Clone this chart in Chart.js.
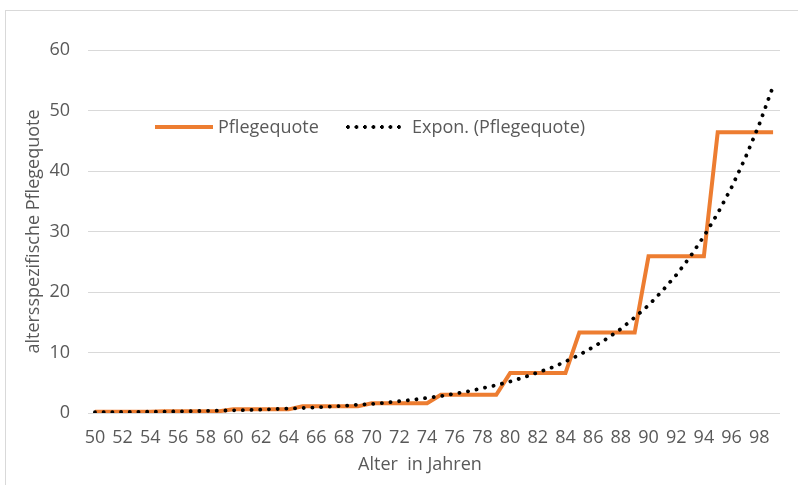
<!DOCTYPE html>
<html><head><meta charset="utf-8">
<script src="https://cdn.jsdelivr.net/npm/chart.js@4.4.1/dist/chart.umd.min.js"></script>
<style>
html,body{margin:0;padding:0;background:#fff;}
#wrap{position:relative;width:798px;height:485px;overflow:hidden;background:#fff}
#frame{position:absolute;left:5px;top:10px;width:820px;height:500px;border:1px solid #d9d9d9;box-sizing:border-box}
canvas{position:absolute;left:0;top:0}
.lt{position:absolute;font-family:'Open Sans',sans-serif;font-size:18px;color:#595959;line-height:20px;white-space:nowrap}
.ls{position:absolute}
</style></head>
<body><div id="wrap"><div id="frame"></div><canvas id="c" width="798" height="485"></canvas>
<div class="ls" style="left:155px;top:125px;width:58px;height:4px;background:#ED7D31"></div>
<div class="lt" style="left:218px;top:116px">Pflegequote</div>
<div class="ls" style="left:346px;top:125px;width:57px;height:4px;background:radial-gradient(circle at 2px 2px,#000 1.7px,transparent 2.1px);background-size:8.5px 4px;background-repeat:repeat-x"></div>
<div class="lt" style="left:412px;top:116px">Expon. (Pflegequote)</div>
</div>
<script>
const ages = ["50","51","52","53","54","55","56","57","58","59","60","61","62","63","64","65","66","67","68","69","70","71","72","73","74","75","76","77","78","79","80","81","82","83","84","85","86","87","88","89","90","91","92","93","94","95","96","97","98","99"];
const pflegequote = [0.2,0.2,0.2,0.2,0.2, 0.3,0.3,0.3,0.3,0.3, 0.6,0.6,0.6,0.6,0.6, 1.1,1.1,1.1,1.1,1.1, 1.6,1.6,1.6,1.6,1.6, 3.0,3.0,3.0,3.0,3.0, 6.6,6.6,6.6,6.6,6.6, 13.3,13.3,13.3,13.3,13.3, 25.9,25.9,25.9,25.9,25.9, 46.4,46.4,46.4,46.4,46.4];
const exponTrend = [0.13,0.15,0.17,0.19,0.21,0.24,0.27,0.31,0.35,0.39,0.44,0.50,0.57,0.64,0.73,0.82,0.93,1.05,1.2,1.35,1.5,1.7,1.95,2.2,2.5,2.8,3.2,3.6,4.1,4.6,5.2,5.9,6.7,7.5,8.5,9.6,10.9,12.3,13.9,15.8,17.8,20.2,22.8,25.8,29.2,33.0,37.3,42.2,47.7,54.0];
const yTicks = [0,10,20,30,40,50,60];

const font = {family:"'Open Sans', sans-serif", size:18};
const gray = '#595959';

new Chart(document.getElementById('c'), {
  type:'line',
  data:{labels:ages, datasets:[
    {label:'Pflegequote', data:pflegequote, borderColor:'#ED7D31', borderWidth:4, pointRadius:0, tension:0, borderJoinStyle:'miter', order:1},
    {label:'Expon. (Pflegequote)', data:exponTrend, borderColor:'#000', borderWidth:3.8, borderDash:[0.1,8.6], borderCapStyle:'round', pointRadius:0, tension:0, order:0}
  ]},
  options:{
    responsive:false, animation:false,
    layout:{padding:{top:50,right:18,bottom:0,left:0}},
    plugins:{legend:{display:false}, tooltip:{enabled:false}},
    scales:{
      x:{type:'category', offset:true,
        grid:{display:false, drawTicks:false}, border:{display:false},
        ticks:{autoSkip:false, maxRotation:0, padding:14, color:gray, font:font,
          callback:function(v,i){return i%2===0 ? ages[i] : '';}},
        title:{display:true, text:'Alter  in Jahren      ', color:gray, font:font, padding:{top:4,bottom:9}},
        afterFit:function(s){s.height=72;}
      },
      y:{min:0, max:60,
        afterBuildTicks:function(s){s.ticks=yTicks.map(v=>({value:v}));},
        grid:{color:'#d9d9d9', lineWidth:1, drawTicks:false}, border:{display:false},
        ticks:{padding:18, color:gray, font:font},
        title:{display:true, text:'altersspezifische Pflegequote', color:gray, font:font, padding:{top:23,bottom:4}},
        afterFit:function(s){s.width=88;}
      }
    }
  }
});
</script>
</body></html>
